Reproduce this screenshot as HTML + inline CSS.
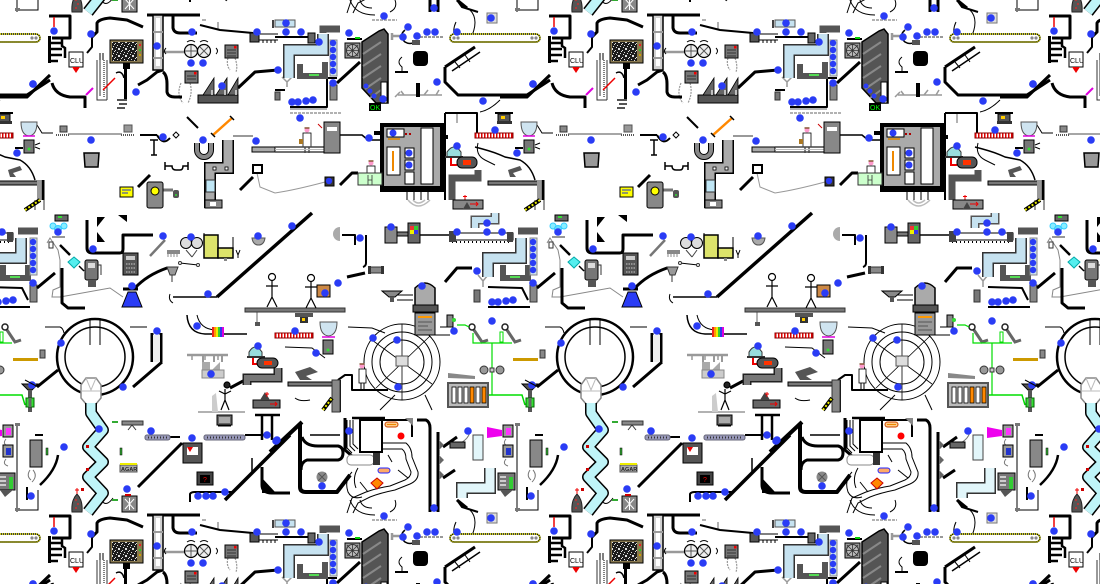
<!DOCTYPE html>
<html><head><meta charset="utf-8">
<style>
html,body{margin:0;padding:0;background:#fff;width:1100px;height:584px;overflow:hidden}
svg{display:block}
</style></head>
<body>
<svg width="1100" height="584" viewBox="0 0 1100 584" xmlns="http://www.w3.org/2000/svg" xmlns:xlink="http://www.w3.org/1999/xlink">
<defs>
<pattern id="nz" width="7" height="7" patternUnits="userSpaceOnUse">
<rect width="7" height="7" fill="#1c1c1c"/>
<path d="M0 0h1v1H0zM3 1h1v1H3zM5 3h1v1H5zM1 4h1v1H1zM4 5h1v1H4zM6 6h1v1H6zM2 2h1v1H2zM6 0h1v1H6zM0 6h1v1H0z" fill="#e0e0e0"/>
</pattern>
<g id="T">
<!-- ===== gray lines ===== -->
<g fill="none" stroke="#999" stroke-width="1.5">
<path d="M163,52 H185" stroke-width="2.5"/>
<path d="M68,134 H122" stroke="#888"/>
<path d="M233,136 H253" stroke-width="2"/>
<path d="M257,173 L260,187 L275,193" stroke-width="1"/>
<path d="M275,193 Q295,190 325,182" stroke-width="1"/>
<path d="M290,113 H342" stroke-dasharray="3 1"/>
<path d="M398,95 H442 M401,91 L404,95 M439,90 L436,95 M424,95 L428,90"/>
<path d="M420,37 H443" stroke-width="2" stroke-dasharray="3 1"/>
<path d="M457,113 V123"/>
<path d="M198,412 H245"/>
<path d="M188,355 H227 M192,355 V360 M205,355 V360 M218,355 V360"/>
<path d="M257,312 V323"/>
<path d="M47,243 L50,238 L58,250 L60,260 V287 L53,290 L52,297 H60 L110,288 L123,297" stroke="#888" stroke-width="1"/>
<path d="M228,58 Q226,65 230,70 M235,58 Q238,66 236,72 M181,83 Q176,95 183,103 M190,83 Q193,93 188,103" stroke-dasharray="2 1" stroke-width="1.2"/>
<path d="M218,22 V30 M202,20 H206"/>
<path d="M187,355 H228" stroke-width="2.5"/>
<path d="M372,20 H397" stroke-dasharray="3 1"/>
<path d="M290,109 H327"/>
<path d="M282,77 L287,82 L292,77 M287,82 V87"/>
<path d="M478,275 L483,281 L488,275 M483,281 V287"/>
<path d="M395,97 L400,92"/>
<path d="M408,200 Q418,212 430,200" stroke="#bbb"/>
<path d="M413,200 Q418,206 425,200" stroke="#bbb"/>
<path d="M186,250 L192,257 M197,250 L192,257" stroke="#444" stroke-width="1"/>
<path d="M155,191 H147" stroke="#666"/>
<path d="M163,190 H173" stroke="#777" stroke-width="3"/>
<path d="M150,256 L165,240" stroke="#777" stroke-width="2.5"/>
<path d="M530,470 Q526,476 531,480 M533,470 Q538,476 532,482" stroke="#777" stroke-width="1"/>
<path d="M506,439 Q502,444 508,446 M506,459 Q502,464 508,466" stroke="#777" stroke-width="1"/>
<path d="M457,445 Q468,440 470,432" stroke="#777" stroke-width="1"/>
</g>

<!-- ===== thick black lines ===== -->
<g fill="none" stroke="#000" stroke-width="3" stroke-linejoin="round">
<path d="M49,16 H70 V38 H52"/>
<path d="M0,97 H27 L50,75"/>
<path d="M92,37 L97,32 V23 Q99,19 110,18 L127,20 L143,27"/>
<path d="M52,83 Q55,95 70,97 H85 V108"/>
<path d="M163,70 L157,72 L147,80 L138,85"/>
<path d="M163,72 Q167,75 167,84 V92 Q168,97 175,97 H182"/>
<path d="M147,15 H200"/>
<path d="M173,15 V28 Q174,33 180,33 H197"/>
<path d="M238,88 L255,72 L278,70"/>
<path d="M337,83 L360,62"/>
<path d="M445,67 L475,47"/>
<path d="M445,67 V82 L458,95 H527 L550,80"/>
<path d="M340,185 L352,173 H358"/>
<path d="M138,187 L150,175"/>
<path d="M240,190 L253,177"/>
<path d="M87,220 V248 Q87,253 93,253 H120 Q123,253 123,249 V235 H153"/>
<path d="M62,268 V303 L68,308 H85"/>
<path d="M37,288 L55,273"/>
<path d="M123,289 H138"/>
<path d="M135,288 Q147,275 167,268 H172"/>
<path d="M217,297 L312,213" stroke-width="3.5"/>
<path d="M152,333 V362 M161,333 V362"/>
<path d="M445,282 L457,268 H472"/>
<path d="M347,277 L365,273"/>
<path d="M37,387 L58,370"/>
<path d="M133,387 L162,362"/>
<path d="M58,455 Q56,470 40,485" stroke-width="2.5"/>
<path d="M138,487 L182,443"/>
<path d="M230,388 L245,380"/>
<path d="M225,500 L290,435" stroke-width="3.5"/>
<path d="M270,452 L302,422" stroke-width="4"/>
<path d="M300,424 V487 Q300,492 306,492 H337 L350,475" stroke-width="4"/>
<path d="M302,437 Q305,446 318,446 H338 Q343,447 343,453 Q343,459 338,460 H307 Q301,462 301,470"/>
<path d="M417,420 H426 Q430,422 430,428 V512"/>
<path d="M438,432 V512"/>
<path d="M443,478 L455,470"/>
<path d="M443,447 L457,437"/>
<path d="M345,418 V450 L352,456"/>
<path d="M418,83 V97" stroke-width="4"/>
<path d="M430,0 V12 M438,0 V12"/>
<path d="M262,467 V485 Q262,493 272,493 H290" stroke-width="3"/>
<path d="M255,415 H280 M262,415 V440 M272,415 V440" stroke-width="2.5"/>
<path d="M352,418 H385" stroke-width="2.5"/>
</g>

<!-- ===== medium black lines ===== -->
<g fill="none" stroke="#000" stroke-width="2" stroke-linejoin="round">
<path d="M92,37 V47 L87,53"/>
<path d="M200,25 L220,30 L253,33"/>
<path d="M275,37 H312"/>
<path d="M340,135 H362 L368,140 H385" stroke-width="1.5"/>
<path d="M445,113 V200 M445,113 H477 V133"/>
<path d="M457,0 L462,7 L478,12"/>
<path d="M342,235 H355 V245"/>
<path d="M366,235 V263 Q366,266 363,267"/>
<path d="M488,307 H530 M488,287 L522,288 L528,300"/>
<path d="M27,487 V500"/>
<path d="M190,502 V494 Q191,492 195,492 H232"/>
<path d="M245,435 H267 M170,437 H180"/>
<path d="M338,380 L345,375 H352 V390 H388 M340,380 V412"/>
<path d="M382,420 H412 V437"/>
<path d="M310,435 H340" stroke-width="1.5"/>
<path d="M140,135 H157 M157,135 Q163,146 170,138"/>
<path d="M290,107 H327 V78 L337,78"/>
<path d="M395,72 H408"/>
<path d="M60,245 L70,255" stroke-width="2.5"/>
<path d="M187,117 L198,128"/>
<path d="M347,39 H362"/>
<path d="M275,90 H285"/>
<path d="M480,52 L452,71" stroke-width="1.5"/>
<path d="M455,62 L460,68 M465,55 L470,62" stroke-width="1"/>
<path d="M495,113 H513"/>
<path d="M35,435 H43"/>
<path d="M535,435 H543"/>
<path d="M543,180 V200" stroke-width="3"/>
<path d="M252,458 V472" stroke-width="1.5"/>
</g>

<!-- ===== thin black lines ===== -->
<g fill="none" stroke="#000" stroke-width="1">
<path d="M37,125 L42,133 H53"/>
<path d="M15,148 H23" stroke-width="2"/>
<path d="M150,140 H158 M154,140 V155 M151,155 H157" stroke-width="1.5"/>
<path d="M165,162 V170 M165,166 H172 Q172,170 176,170 H180 Q183,170 183,166 H188 M188,162 V170" stroke-width="1.5"/>
<path d="M475,147 Q495,152 505,157 L520,160 Q531,166 535,180" stroke-width="1.5"/>
<path d="M173,297 H217" stroke-width="1.5"/>
<path d="M170,294 Q168,300 173,303"/>
<path d="M187,315 Q188,333 205,334 H247" stroke-width="1.5"/>
<path d="M197,315 Q200,329 215,330"/>
<path d="M348,327 L372,328 L385,333"/>
<path d="M428,335 H450 M440,327 H452"/>
<path d="M285,347 L312,348 L325,358"/>
<path d="M420,235 H452" stroke-width="1.5"/>
<path d="M397,295 H413 M397,300 H413"/>
<path d="M402,57 Q396,62 402,67 V72"/>
<path d="M17,425 V510 H38 V490"/>
<path d="M517,425 V512"/>
<path d="M45,327 H60 Q63,328 64,333 M130,327 H147"/>
<path d="M90,318 V345 M100,318 V345"/>
<path d="M405,30 Q398,36 405,42 Q410,45 415,42" stroke-width="1.5"/>
<path d="M350,0 Q355,15 375,15 M360,0 Q362,8 372,8 M395,0 Q398,8 390,12"/>
<path d="M180,263 L198,265"/>
<path d="M478,143 Q475,155 485,160 L495,165"/>
<path d="M382,443 H406 Q412,448 412,457 L418,472 Q419,480 410,484 L395,490 Q380,493 370,497 L358,503 L353,513"/>
<path d="M382,449 H402 Q406,452 406,459 L411,472 Q411,477 405,480 L390,486 Q377,488 366,492 L352,498 L347,513"/>
<path d="M352,472 Q344,480 348,492 Q352,500 362,497"/>
<path d="M358,468 Q352,478 356,488"/>
<path d="M398,470 L408,478 M360,482 L368,492 M388,455 L392,462"/>
<path d="M113,498 Q108,505 104,503 Q100,500 105,497"/>
<path d="M295,398 Q300,402 310,400"/>
<path d="M470,40 Q480,20 470,10 M455,40 Q452,30 456,22"/>
<path d="M500,100 Q490,110 480,112"/>
<path d="M25,380 L38,387"/>
<path d="M380,410 Q390,400 395,395 M425,395 L432,410"/>
</g>

<!-- ===== rings ===== -->
<g fill="none" stroke="#000">
<circle cx="95" cy="357" r="38" stroke-width="2.5"/>
<circle cx="95" cy="357" r="30" stroke-width="1.5"/>
<circle cx="402" cy="362" r="38" stroke-width="1"/>
<circle cx="402" cy="362" r="30" stroke-width="1"/>
<circle cx="402" cy="362" r="22" stroke-width="1"/>
<path d="M372,340 L432,384 M376,388 L430,336 M402,324 V400" stroke-width="0.8"/>
</g>
<rect x="396" y="356" width="12" height="10" fill="#ddd" stroke="#555"/>
<polygon points="86,378 96,378 101,385 101,398 96,404 86,404 81,398 81,385" fill="#fff" stroke="#888" stroke-width="1.5"/>
<path d="M86,378 L91,390 L96,378 M81,391 H101" fill="none" stroke="#bbb"/>

<!-- ===== zigzag cyan pipe ===== -->
<polyline points="91,403 91,413 103,430 88,447 103,462 88,477 103,493 88,512" fill="none" stroke="#000" stroke-width="12" stroke-linejoin="round"/>
<polyline points="91,403 91,413 103,430 88,447 103,462 88,477 103,493 88,512" fill="none" stroke="#bff4f8" stroke-width="9" stroke-linejoin="round"/>
<rect x="86" y="445" width="3" height="3" fill="#c00"/><rect x="86" y="468" width="3" height="3" fill="#c00"/><rect x="81" y="488" width="3" height="3" fill="#c00"/>

<!-- ===== cyan pipes ===== -->
<path d="M289,78 V50 H323 V34" fill="none" stroke="#333" stroke-width="12"/>
<path d="M289,78 V50 H323 V34" fill="none" stroke="#c6e2f0" stroke-width="9"/>
<path d="M323,33 V29 H340" fill="none" stroke="#555" stroke-width="7"/>
<rect x="275" y="20" width="20" height="7" fill="#c6e2f0" stroke="#555"/>
<path d="M488,277 V258 H521 V238" fill="none" stroke="#333" stroke-width="12"/>
<path d="M488,277 V258 H521 V238" fill="none" stroke="#c6e2f0" stroke-width="9"/>
<path d="M518,231 H538" fill="none" stroke="#555" stroke-width="7"/>
<path d="M475,228 V220 H495 V213" fill="none" stroke="#555" stroke-width="9"/>
<path d="M475,228 V220 H495 V213" fill="none" stroke="#c6e2f0" stroke-width="6"/>
<rect x="473" y="435" width="10" height="25" fill="#e2f6fa" stroke="#444"/>
<path d="M462,498 V488 H490 V468" fill="none" stroke="#333" stroke-width="12"/>
<path d="M462,498 V488 H490 V468" fill="none" stroke="#e2f6fa" stroke-width="9"/>
<path d="M457,500 L467,508" stroke="#000" stroke-width="3"/>
<!-- dark gray U pipes -->
<path d="M300,64 V76 H325 V62" fill="none" stroke="#555" stroke-width="6"/>
<rect x="309" y="74" width="10" height="2" fill="#5d5"/>
<path d="M503,265 V278 H528 V265" fill="none" stroke="#555" stroke-width="6"/>
<rect x="510" y="276" width="10" height="2" fill="#5d5"/>
<rect x="330" y="40" width="7" height="36" fill="#d0e4f0" stroke="#888"/>
<rect x="530" y="238" width="7" height="37" fill="#d0e4f0" stroke="#888"/>
<rect x="330" y="85" width="7" height="15" fill="#888" stroke="#333"/>
<rect x="530" y="285" width="7" height="17" fill="#888" stroke="#333"/>
<rect x="275" y="92" width="5" height="8" fill="#777" stroke="#333"/>
<rect x="474" y="290" width="6" height="12" fill="#777" stroke="#333"/>

<!-- ===== gray pipe ===== -->
<path d="M228,140 V168 H210 V208" fill="none" stroke="#000" stroke-width="12"/>
<path d="M228,140 V168 H210 V208" fill="none" stroke="#aaa" stroke-width="9"/>
<rect x="206" y="180" width="9" height="12" fill="#bfe6f5" stroke="#333"/>
<rect x="213" y="167" width="3" height="3" fill="#fff" stroke="#000" stroke-width="0.8"/>
<rect x="225" y="167" width="3" height="3" fill="#fff" stroke="#000" stroke-width="0.8"/>
<rect x="205" y="200" width="17" height="8" fill="#888" stroke="#000"/>
<rect x="210" y="202" width="6" height="4" fill="#fff"/>
<rect x="253" y="165" width="9" height="8" fill="#fff" stroke="#000" stroke-width="2"/>
<path d="M478,170 V178 H452 V200" fill="none" stroke="#555" stroke-width="7"/>
<path d="M247,385 V378 H278 V368" fill="none" stroke="#222" stroke-width="9"/>
<path d="M247,385 V378 H278 V368" fill="none" stroke="#777" stroke-width="6"/>

<!-- ===== column top-middle ===== -->
<rect x="153" y="15" width="10" height="55" fill="#d0d0d0" stroke="#000" stroke-width="1.5"/>
<rect x="156" y="18" width="4" height="48" fill="#fff"/>
<path d="M153,32 H163 M153,58 H163" stroke="#999" stroke-width="2"/>

<!-- ladder -->
<rect x="48" y="36" width="3" height="27" fill="#000"/>
<path d="M50,43 H62 M50,49 H62 M50,55 H62 M50,61 H58" stroke="#000" stroke-width="2.5"/>
<path d="M62,38 V46 L65,48 V58" fill="none" stroke="#000" stroke-width="2.5"/>
<line x1="54" y1="17" x2="54" y2="27" stroke="#e00" stroke-width="1.5"/>
<rect x="15" y="508" width="5" height="3" fill="#777"/>
<rect x="15" y="423" width="5" height="3" fill="#777"/>
<rect x="515" y="423" width="5" height="3" fill="#777"/>

<!-- CLU -->
<rect x="69" y="52" width="14" height="15" fill="#fff" stroke="#000"/>
<text x="70" y="63" font-family="Liberation Sans, sans-serif" font-size="7" fill="#000">CLU</text>
<polygon points="72,67 80,67 76,73" fill="#e00"/>

<!-- test tube rack -->
<path d="M97,60 V100 H107 M100,57 V96 M107,60 V100" fill="none" stroke="#333" stroke-width="1"/>
<path d="M104,60 V98" stroke="#000" stroke-width="1" stroke-dasharray="1 1"/>
<path d="M100,53 V60 M103,53 V60" stroke="#555" stroke-width="1.5"/>
<line x1="86" y1="95" x2="93" y2="88" stroke="#d0d" stroke-width="2"/>
<line x1="103" y1="90" x2="115" y2="78" stroke="#e00" stroke-width="1.5"/>

<!-- noise screen -->
<rect x="110" y="40" width="33" height="23" fill="#8a7a50" stroke="#000"/>
<rect x="112" y="42" width="25" height="19" fill="url(#nz)"/>
<rect x="139" y="44" width="2" height="2" fill="#e22"/><rect x="139" y="49" width="2" height="2" fill="#2c2"/><rect x="139" y="54" width="2" height="2" fill="#c90"/>
<rect x="123" y="63" width="7" height="6" fill="#000"/>
<rect x="124" y="69" width="3" height="30" fill="#000"/>
<path d="M116,73 Q122,70 124,78" fill="none" stroke="#000" stroke-width="1.5"/>
<path d="M117,100 H127 M119,104 H127 M117,108 H125" stroke="#555" stroke-width="2"/>

<!-- twin balls -->
<circle cx="191" cy="51" r="6.5" fill="#eee" stroke="#000" stroke-width="1.2"/>
<circle cx="204" cy="51" r="6.5" fill="#eee" stroke="#000" stroke-width="1.2"/>
<path d="M191,45 V57 M185,51 H197 M200,47 L208,55 M208,47 L200,55" stroke="#555" stroke-width="1"/>
<path d="M166,48 Q163,51 166,54 M216,48 Q219,51 216,54 M187,42 Q191,39 195,42 M200,42 Q204,39 208,42" fill="none" stroke="#000" stroke-width="1"/>

<!-- gray devices -->
<rect x="225" y="45" width="13" height="13" fill="#777" stroke="#000"/>
<path d="M227,50 H236 M227,53 H236 M227,56 H236" stroke="#333"/>
<rect x="234" y="46" width="2.5" height="2.5" fill="#e00"/>
<rect x="185" y="71" width="13" height="12" fill="#777" stroke="#000"/>
<path d="M187,76 H196 M187,79 H196" stroke="#333"/>
<rect x="194" y="72" width="2.5" height="2.5" fill="#e00"/>

<!-- factory -->
<rect x="198" y="95" width="40" height="8" fill="#555" stroke="#000"/>
<polygon points="203,95 214,78 214,95" fill="#666" stroke="#000" stroke-width="0.8"/>
<polygon points="216,95 227,78 227,95" fill="#666" stroke="#000" stroke-width="0.8"/>
<polygon points="228,95 238,78 238,95" fill="#666" stroke="#000" stroke-width="0.8"/>
<path d="M212,90 V95 M225,90 V95 M236,90 V95" stroke="#ddd" stroke-width="1.5"/>

<!-- plug & rail -->
<rect x="250" y="33" width="9" height="9" fill="#555" stroke="#000"/>
<path d="M259,34 H278 M259,40 H278 M263,40 V43 M267,40 V43 M271,40 V43 M275,40 V43" stroke="#000" stroke-width="1"/>
<path d="M273,20 V28" stroke="#000" stroke-width="1.5"/>

<!-- left lower devices -->
<rect x="498" y="114" width="12" height="8" fill="#555" stroke="#000"/>
<rect x="501" y="116" width="4" height="3" fill="#fc0"/>
<rect x="497" y="121" width="15" height="3" fill="#333"/>
<path d="M21,122 H37 Q37,135 29,136 Q21,135 21,122 Z" fill="#cfe4f0" stroke="#555"/>
<path d="M23,136 H35" stroke="#d0d" stroke-width="1.5"/>
<rect x="24" y="140" width="10" height="13" fill="#777" stroke="#000"/>
<circle cx="29" cy="149" r="1.5" fill="#3d3"/>
<path d="M35,145 L40,143 M35,147 L40,149" stroke="#000"/>
<rect x="475" y="133" width="38" height="5" fill="#fff" stroke="#800"/>
<line x1="475" y1="135.5" x2="513" y2="135.5" stroke="#d00" stroke-width="4" stroke-dasharray="1.5 1.5"/>
<rect x="275" y="333" width="38" height="5" fill="#fff" stroke="#800"/>
<line x1="275" y1="335.5" x2="313" y2="335.5" stroke="#d00" stroke-width="4" stroke-dasharray="1.5 1.5"/>
<rect x="60" y="126" width="7" height="6" fill="#888" stroke="#333"/>
<path d="M56,135 H70" stroke="#555" stroke-width="2" stroke-dasharray="1 1"/>
<rect x="124" y="125" width="8" height="7" fill="#999" stroke="#555"/>
<path d="M121,135 H134" stroke="#555" stroke-width="2" stroke-dasharray="1 1"/>
<polygon points="176,132 179,135 176,138 173,135" fill="#fff" stroke="#000"/>
<line x1="213" y1="135" x2="232" y2="118" stroke="#f80" stroke-width="2.5"/>
<path d="M211,133 L215,137 M230,116 L234,120" stroke="#000" stroke-width="1.5"/>
<path d="M197,143 V150 A7,7 0 0 0 211,150 V143" fill="none" stroke="#000" stroke-width="6"/>
<path d="M197,143 V150 A7,7 0 0 0 211,150 V143" fill="none" stroke="#888" stroke-width="4"/>
<rect x="252" y="147" width="23" height="5" fill="#aaa" stroke="#000"/>
<polygon points="84,153 99,153 98,167 85,167" fill="#999" stroke="#000" stroke-width="1.5"/>
<polygon points="508,170 520,166 522,170 513,173 516,177 510,177" fill="#555"/>
<rect x="488" y="181" width="50" height="4" fill="#777" stroke="#000"/>
<rect x="537" y="180" width="4" height="20" fill="#999"/>
<rect x="120" y="187" width="13" height="10" fill="#ff0" stroke="#000"/>
<path d="M122,190 H131 M122,193 H128" stroke="#23c"/>
<rect x="147" y="182" width="16" height="26" rx="2" fill="#888" stroke="#000"/>
<circle cx="155" cy="191" r="4" fill="#ff0" stroke="#000"/>
<rect x="173" y="190" width="6" height="8" rx="2" fill="#555"/>
<circle cx="176" cy="195" r="1" fill="#3d3"/>

<!-- zoom2 top -->
<rect x="308" y="33" width="7" height="10" fill="#666" stroke="#000"/>
<rect x="345" y="43" width="15" height="15" fill="#999" stroke="#000"/>
<circle cx="352.5" cy="50.5" r="6" fill="#bbb" stroke="#333"/>
<path d="M347,45 L358,56 M358,45 L347,56 M352.5,44 V57 M346,50.5 H359" stroke="#333" stroke-width="0.8"/>
<rect x="355" y="37" width="5" height="2" fill="#0c0"/>
<polygon points="362,42 379,31 384,29 388,34 388,103 376,103 362,88" fill="#555" stroke="#000" stroke-width="1.5"/>
<path d="M363,54 L381,42 M363,66 L381,54 M363,78 L381,66 M365,89 L381,78 M370,98 L381,90" stroke="#888" stroke-width="2"/>
<rect x="381" y="82" width="6" height="21" fill="#fff" stroke="#000"/>
<circle cx="366" cy="86" r="2.5" fill="#2a3cf5"/><circle cx="370" cy="91" r="2.5" fill="#2a3cf5"/><circle cx="374" cy="96" r="2.5" fill="#2a3cf5"/>
<rect x="369" y="103" width="12" height="8" fill="#000"/>
<text x="370" y="110" font-family="Liberation Sans, sans-serif" font-size="7" fill="#0f0">OK</text>
<path d="M392,33 V40 M392,36 H402" stroke="#999" stroke-width="2.5"/>
<rect x="412" y="40" width="8" height="5" fill="#555"/>
<rect x="413" y="51" width="15" height="15" rx="4" fill="#000"/>
<rect x="450" y="34" width="90" height="8" rx="4" fill="#fff" stroke="#000" stroke-width="1.5"/>
<rect x="450" y="34" width="90" height="8" rx="4" fill="none" stroke="#ee0" stroke-width="1.5" stroke-dasharray="1 1"/>
<circle cx="454" cy="38" r="1.6" fill="#888"/><circle cx="458" cy="38" r="1.6" fill="#888"/><circle cx="532" cy="38" r="1.6" fill="#888"/><circle cx="536" cy="38" r="1.6" fill="#888"/>
<rect x="487" y="13" width="10" height="10" fill="#ddd" stroke="#777"/>

<!-- zoom2 lower -->
<circle cx="307" cy="130" r="2.5" fill="#f9c"/>
<path d="M304.5,128 H309.5" stroke="#853" stroke-width="1.5"/>
<rect x="303" y="133" width="8" height="14" fill="#fff" stroke="#000" stroke-width="0.8"/>
<path d="M305,147 V153 M309,147 V153" stroke="#000"/>
<rect x="299" y="139" width="4" height="5" fill="#a72"/>
<path d="M275,147 H325 M275,152 H325" stroke="#444" stroke-width="1.5"/>
<path d="M275,149.5 H325" stroke="#bbb"/>
<rect x="324" y="122" width="16" height="31" fill="#888" stroke="#000"/>
<rect x="327" y="127" width="10" height="4" fill="#fff"/>
<path d="M318,124 L322,128" stroke="#c00"/>
<rect x="382" y="125" width="60" height="63" fill="#aaa" stroke="#000" stroke-width="4"/>
<path d="M374,133 H382 M442,137 H448 M380,190 H444" stroke="#000" stroke-width="4"/>
<rect x="387" y="129" width="17" height="8" fill="#fff" stroke="#000"/>
<path d="M388,139 H400" stroke="#d80" stroke-width="1.5"/>
<rect x="387" y="147" width="13" height="28" fill="#fff" stroke="#000"/>
<path d="M393,151 V171" stroke="#e80" stroke-width="2"/>
<rect x="405" y="148" width="9" height="10" fill="#fff" stroke="#000"/>
<rect x="405" y="160" width="9" height="10" fill="#fff" stroke="#000"/>
<rect x="405" y="172" width="9" height="12" fill="#fff" stroke="#000"/>
<rect x="421" y="128" width="12" height="56" fill="#fff" stroke="#000"/>
<rect x="405" y="133" width="2" height="2" fill="#a00"/><rect x="409" y="133" width="2" height="2" fill="#a00"/>
<path d="M407,192 V200 M414,192 V200 M421,192 V200 M428,192 V200" stroke="#000"/>
<circle cx="371" cy="163" r="2.5" fill="#f9c"/>
<path d="M368.5,161 H373.5" stroke="#853" stroke-width="1.5"/>
<rect x="367" y="166" width="8" height="8" fill="#fff" stroke="#000" stroke-width="0.8"/>
<rect x="358" y="173" width="24" height="12" fill="#cfc" stroke="#333"/>
<path d="M368,175 V185 M372,175 V185 M368,180 H372" stroke="#333" stroke-width="0.8"/>
<rect x="325" y="177" width="9" height="9" fill="#333" stroke="#000"/>
<path d="M447,157 V152 Q454,142 461,152 V157 Z" fill="#9dd" stroke="#333"/>
<rect x="445" y="156" width="18" height="2" fill="#333"/>
<path d="M451,158 V165 H457" fill="none" stroke="#e00" stroke-width="2"/>
<rect x="457" y="157" width="20" height="11" rx="5" fill="#555" stroke="#000"/>
<rect x="463" y="160" width="8" height="5" fill="#f30"/>
<path d="M249,357 V352 Q255,342 262,352 V357 Z" fill="#9dd" stroke="#333"/>
<rect x="247" y="356" width="18" height="2" fill="#333"/>
<path d="M253,358 V364 H258" fill="none" stroke="#e00" stroke-width="2"/>
<rect x="257" y="358" width="21" height="10" rx="5" fill="#555" stroke="#000"/>
<rect x="264" y="361" width="8" height="4" fill="#f30"/>
<path d="M465,195 V200 M463,196.5 H467" stroke="#e00"/>
<!-- zoom3 -->
<path d="M25,210 L40,200" stroke="#000" stroke-width="4"/>
<path d="M25,210 L40,200" stroke="#ee0" stroke-width="2" stroke-dasharray="2 2"/>
<path d="M525,210 L540,200" stroke="#000" stroke-width="4"/>
<path d="M525,210 L540,200" stroke="#ee0" stroke-width="2" stroke-dasharray="2 2"/>
<path d="M535,200 V210 M544,200 V210" stroke="#777" stroke-width="1.5"/>
<rect x="55" y="215" width="13" height="6" fill="#666" stroke="#000"/>
<rect x="58" y="216" width="4" height="2" fill="#3d3"/>
<circle cx="53" cy="226" r="3" fill="#8ef" stroke="#3cf"/>
<circle cx="64" cy="226" r="3" fill="#8ef" stroke="#3cf"/>
<circle cx="58" cy="229" r="3.5" fill="#6df" stroke="#3cf"/>
<path d="M52,237 H65" stroke="#999" stroke-width="2"/>
<rect x="49" y="242" width="4" height="6" fill="#fff" stroke="#333"/>
<polygon points="74,257 80,262 74,268 68,262" fill="#5ee" stroke="#0aa"/>
<path d="M79,266 L84,271" stroke="#000" stroke-width="1.5"/>
<rect x="85" y="260" width="13" height="20" rx="2" fill="#777" stroke="#000"/>
<rect x="88" y="263" width="7" height="5" fill="#ddd"/>
<rect x="88" y="280" width="8" height="7" fill="#555"/>
<path d="M98,265 H101 V275" fill="none" stroke="#333"/>
<polygon points="97,217 105,217 97,227" fill="#000"/>
<polygon points="97,232 97,242 105,242" fill="#000"/>
<polygon points="118,215 127,215 127,222" fill="#000"/>
<rect x="123" y="253" width="15" height="22" fill="#555" stroke="#000"/>
<rect x="126" y="256" width="9" height="4" fill="#ccc"/>
<path d="M126,264 H135 M126,268 H135 M126,272 H135" stroke="#ccc" stroke-dasharray="1.5 1"/>
<polygon points="128,292 136,292 142,307 122,307" fill="#2a3cf5" stroke="#000"/>
<circle cx="186" cy="243" r="5.5" fill="#ddd" stroke="#000"/>
<circle cx="197" cy="243" r="5.5" fill="#ddd" stroke="#000"/>
<rect x="167" y="250" width="13" height="4" fill="#888"/>
<path d="M168,254 V257 M171,254 V257 M174,254 V257 M177,254 V257" stroke="#888"/>
<rect x="204" y="235" width="14" height="23" fill="#dde36b" stroke="#000" stroke-width="1.5"/>
<rect x="218" y="248" width="15" height="10" fill="#dde36b" stroke="#000" stroke-width="1.5"/>
<path d="M204,233 V235 M233,237 V248 M236,250 L238,255 L240,250 M238,255 V258" fill="none" stroke="#000"/>
<rect x="224" y="258" width="3" height="3" fill="#888"/>
<path d="M252,238 H265 Q264,245 258.5,245 Q253,245 252,238 Z" fill="#aaa" stroke="#555"/>
<polygon points="167,267 178,267 175,275 170,275" fill="#999" stroke="#333"/>
<path d="M172,275 V282" stroke="#333"/>
<circle cx="180" cy="263" r="1.5" fill="#fff" stroke="#333"/><circle cx="198" cy="265" r="1.5" fill="#fff" stroke="#333"/>
<rect x="245" y="308" width="100" height="4" fill="#777" stroke="#333"/>
<rect x="255" y="322" width="5" height="4" fill="#555"/>
<rect x="212" y="327" width="2" height="10" fill="#e22"/><rect x="214" y="327" width="2" height="10" fill="#f90"/><rect x="216" y="327" width="2" height="10" fill="#ee0"/><rect x="218" y="327" width="2" height="10" fill="#3c3"/><rect x="220" y="327" width="2" height="10" fill="#33e"/><rect x="222" y="327" width="2" height="10" fill="#d0d"/>
<rect x="153" y="335" width="7" height="27" fill="#eee"/>
<rect x="40" y="350" width="5" height="8" fill="#888" stroke="#333"/>
<rect x="13" y="358" width="25" height="3" fill="#c90"/>
<rect x="513" y="358" width="25" height="3" fill="#c90"/>
<rect x="540" y="350" width="5" height="8" fill="#888" stroke="#333"/>

<!-- zoom4 -->
<path d="M340,227 A7,7 0 0 0 340,241 Z" fill="#aaa"/>
<rect x="370" y="267" width="12" height="6" fill="#888" stroke="#333"/>
<rect x="368" y="266" width="3" height="8" fill="#333"/><rect x="381" y="266" width="3" height="8" fill="#333"/>
<g fill="none" stroke="#000" stroke-width="1.2">
<circle cx="311" cy="278" r="3.5" fill="#fff"/>
<path d="M311,282 V298 L306,308 M311,298 L316,308 M305,287 H317"/>
<circle cx="272" cy="277" r="3.5" fill="#fff"/>
<path d="M272,281 V297 L267,307 M272,297 L277,307 M266,286 H278"/>
<circle cx="227" cy="385" r="3" fill="#222"/>
<path d="M225,389 V400 L221,410 M225,400 L229,410 M219,391 L225,394 L231,391"/>
</g>
<rect x="317" y="285" width="13" height="12" fill="#c84" stroke="#000"/>
<rect x="385" y="227" width="12" height="16" fill="#888" stroke="#000"/>
<rect x="397" y="232" width="11" height="4" fill="#777" stroke="#000"/>
<rect x="408" y="223" width="12" height="20" fill="#666" stroke="#000"/>
<rect x="410" y="226" width="4" height="4" fill="#e33"/><rect x="414" y="226" width="4" height="4" fill="#3c3"/><rect x="410" y="230" width="4" height="4" fill="#ee0"/><rect x="414" y="230" width="4" height="4" fill="#33e"/>
<rect x="450" y="233" width="63" height="7" fill="#fff" stroke="#000"/>
<path d="M452,242 H511" stroke="#000" stroke-width="2" stroke-dasharray="1 3"/>
<rect x="449" y="231" width="7" height="11" fill="#444"/>
<rect x="507" y="232" width="6" height="10" fill="#444"/>
<rect x="453" y="200" width="30" height="9" fill="#888" stroke="#000"/>
<path d="M470,204 H478 M476,202 L478,204 L476,206" fill="none" stroke="#e00"/>
<polygon points="463,209 467,202 471,209" fill="#444"/>
<path d="M415,310 V288 Q425,278 435,288 V310 Z" fill="#aaa" stroke="#000" stroke-width="1.5"/>
<rect x="413" y="305" width="25" height="7" fill="#555" stroke="#000"/>
<polygon points="382,291 402,291 395,297 389,297" fill="#888" stroke="#000"/>
<rect x="390" y="297" width="4" height="5" fill="#555"/>
<rect x="415" y="313" width="20" height="22" fill="#999" stroke="#000"/>
<rect x="418" y="316" width="14" height="2" fill="#f90"/>
<path d="M418,322 H432 M418,326 H428 M418,330 H432" stroke="#555"/>
<rect x="447" y="315" width="6" height="12" fill="#888" stroke="#000"/>
<circle cx="454" cy="320" r="2" fill="#3d3"/>
<g fill="none" stroke="#666" stroke-width="3">
<path d="M472,327 L482,342 L488,340"/>
<path d="M505,327 L515,342 L521,340"/>
</g>
<circle cx="472" cy="327" r="3" fill="#fff" stroke="#222" stroke-width="1.5"/>
<circle cx="505" cy="327" r="3" fill="#fff" stroke="#222" stroke-width="1.5"/>
<path d="M457,325 H465 L469,327 M473,333 V343 H492 V395 M492,343 H512" fill="none" stroke="#0d0" stroke-width="1.2"/>
<path d="M488,395 H522 L525,405" fill="none" stroke="#0d0" stroke-width="1.5"/>
<rect x="500" y="332" width="3" height="10" fill="none" stroke="#0d0"/>
<rect x="295" y="313" width="18" height="4" fill="#555"/>
<rect x="300" y="317" width="8" height="6" fill="#333"/>
<rect x="302" y="318" width="3" height="3" fill="#fc0"/>
<path d="M320,322 H337 Q337,335 328.5,336 Q320,335 320,322 Z" fill="#cfe4f0" stroke="#555"/>
<path d="M322,337 H335" stroke="#d0d" stroke-width="1.5"/>
<rect x="323" y="340" width="10" height="14" fill="#777" stroke="#000"/>
<circle cx="328" cy="350" r="1.5" fill="#3d3"/>

<!-- zoom5 -->
<polygon points="522,384 538,384 532,390 528,390" fill="#555" stroke="#000"/>
<rect x="528" y="390" width="4" height="22" fill="#555"/>
<rect x="526" y="398" width="8" height="9" fill="#3d3" stroke="#060"/>
<rect x="528.5" y="398" width="3" height="9" fill="#666"/>
<polygon points="487,427 502,430 502,436 487,438" fill="#e0e"/>
<rect x="503" y="425" width="10" height="12" fill="#999" stroke="#000"/>
<rect x="506" y="428" width="5" height="7" fill="#f3f"/>
<rect x="503" y="445" width="10" height="12" fill="#999" stroke="#000"/>
<rect x="506" y="448" width="5" height="7" fill="#23c"/>
<rect x="498" y="473" width="17" height="17" fill="#777" stroke="#000"/>
<rect x="509" y="477" width="4" height="12" fill="#3c3"/>
<rect x="500" y="476" width="6" height="2" fill="#ccc"/><rect x="500" y="480" width="6" height="2" fill="#ccc"/><rect x="500" y="484" width="6" height="2" fill="#ccc"/>
<polygon points="500,490 513,490 505,497" fill="#555"/>
<rect x="530" y="440" width="12" height="27" fill="#888" stroke="#000"/>
<path d="M532,443 H540 M532,447 H540 M532,451 H540 M532,455 H540 M532,459 H540" stroke="#ddd" stroke-dasharray="1.5 1"/>
<rect x="46" y="448" width="2" height="7" fill="#3a3" stroke="#000" stroke-width="0.5"/>
<rect x="120" y="448" width="2" height="7" fill="#3a3" stroke="#000" stroke-width="0.5"/>
<rect x="112" y="421" width="6" height="2" fill="#3a3"/>
<rect x="112" y="499" width="6" height="2" fill="#3a3"/>
<rect x="122" y="421" width="21" height="4" fill="#888" stroke="#333"/>
<path d="M128,430 L132,425 L136,430" fill="none" stroke="#333"/>
<rect x="145" y="435" width="25" height="5" rx="2" fill="#99b" stroke="#667"/>
<path d="M148,437.5 H168" stroke="#333" stroke-width="2" stroke-dasharray="1 2"/>
<rect x="204" y="435" width="41" height="5" rx="2" fill="#99b" stroke="#667"/>
<path d="M207,437.5 H243" stroke="#333" stroke-width="2" stroke-dasharray="1 2"/>
<rect x="120" y="465" width="17" height="7" fill="#aaa" stroke="#555"/>
<rect x="120" y="463" width="17" height="2" fill="#ee0"/>
<text x="121" y="471" font-family="Liberation Sans, sans-serif" font-size="5.5" font-weight="bold" fill="#222">AGAR</text>
<rect x="183" y="443" width="19" height="20" fill="#555" stroke="#000"/>
<rect x="187" y="447" width="11" height="8" fill="#fff"/>
<polygon points="187,447 193,447 190,452" fill="#e00"/>
<rect x="197" y="472" width="16" height="13" fill="#444" stroke="#000"/>
<rect x="200" y="475" width="10" height="8" fill="#000"/>
<text x="203" y="482" font-family="Liberation Sans, sans-serif" font-size="7" fill="#e00">?</text>
<rect x="217" y="415" width="15" height="10" fill="#666" stroke="#000"/>
<rect x="219" y="417" width="11" height="6" fill="#aaa"/>
<path d="M218,426 H231" stroke="#000"/>
<rect x="202" y="362" width="8" height="8" fill="#aaa"/><polygon points="212,370 220,362 220,370" fill="#aaa"/>
<rect x="202" y="370" width="22" height="8" fill="#ccc" stroke="#888"/>
<path d="M203,362 V355 M214,362 V355 M222,362 V355" stroke="#999" stroke-width="2"/>
<polygon points="212,412 212,396 216,393 218,412" fill="#ccc"/>
<rect x="253" y="400" width="27" height="8" fill="#666" stroke="#000"/>
<polygon points="260,400 265,392 270,400" fill="#444"/>
<path d="M267,392 V397 M265,394 H269" stroke="#e00"/>
<path d="M270,404 H277 M275,402 L277,404 L275,406" fill="none" stroke="#e00"/>
<polygon points="262,478 262,493 276,493" fill="#000"/>
<path d="M72,512 Q71,500 77,494 Q83,500 82,512 Z" fill="#555" stroke="#222"/>
<path d="M77,488 V494 M75,490 H79" stroke="#e00" stroke-width="1"/>
<circle cx="76" cy="500" r="0.9" fill="#e22"/><circle cx="78" cy="504" r="0.9" fill="#e22"/><circle cx="76" cy="508" r="0.9" fill="#e22"/>
<rect x="122" y="496" width="15" height="16" fill="#888" stroke="#000"/>
<rect x="125" y="494" width="6" height="2" fill="#c00"/>
<path d="M125,499 L134,509 M134,499 L125,509 M129.5,498 V510" stroke="#fff" stroke-width="1"/>
<rect x="30" y="440" width="12" height="27" fill="#888" stroke="#000"/>
<rect x="3" y="425" width="10" height="12" fill="#999" stroke="#000"/>
<rect x="6" y="428" width="5" height="7" fill="#f3f"/>
<rect x="3" y="445" width="10" height="12" fill="#999" stroke="#000"/>
<rect x="6" y="448" width="5" height="7" fill="#23c"/>

<!-- zoom6 -->
<polygon points="295,372 310,367 318,372 306,376 312,380 300,380" fill="#555"/>
<rect x="288" y="382" width="50" height="4" fill="#777" stroke="#000"/>
<rect x="332" y="380" width="8" height="32" fill="#888" stroke="#333"/>
<path d="M323,410 L332,398" stroke="#000" stroke-width="4"/>
<path d="M323,410 L332,398" stroke="#ee0" stroke-width="2" stroke-dasharray="2 2"/>
<circle cx="362" cy="366" r="2.5" fill="#f9c"/>
<path d="M359.5,364 H364.5" stroke="#853" stroke-width="1.5"/>
<rect x="359" y="369" width="7" height="14" fill="#fff" stroke="#000" stroke-width="0.8"/>
<path d="M361,383 V390 M364,383 V390" stroke="#000"/>
<polygon points="448,373 475,376 475,379 448,378" fill="#888"/>
<rect x="448" y="383" width="40" height="24" fill="#bbb" stroke="#555" stroke-width="2"/>
<rect x="452" y="387" width="4" height="16" fill="#fff" stroke="#000" stroke-width="0.8"/>
<rect x="458" y="387" width="4" height="16" fill="#fff" stroke="#000" stroke-width="0.8"/>
<rect x="464" y="387" width="4" height="16" fill="#fff" stroke="#000" stroke-width="0.8"/>
<rect x="470" y="387" width="4" height="16" fill="#f80" stroke="#000" stroke-width="0.8"/>
<rect x="476" y="387" width="4" height="16" fill="#fff" stroke="#000" stroke-width="0.8"/>
<rect x="482" y="387" width="4" height="16" fill="#f80" stroke="#000" stroke-width="0.8"/>
<circle cx="484" cy="370" r="4" fill="#999" stroke="#333"/>
<circle cx="500" cy="370" r="4" fill="#999" stroke="#333"/>
<rect x="490" y="368" width="4" height="4" fill="#ccc" stroke="#333"/>
<circle cx="322" cy="477" r="5.5" fill="#888"/>
<path d="M318,473 L326,481 M326,473 L318,481" stroke="#555"/>
<path d="M347,420 V448 L352,453 M350,420 V446 L355,451 M353,420 V444 L358,449" fill="none" stroke="#000" stroke-width="1"/>
<rect x="360" y="420" width="22" height="32" fill="#fff" stroke="#000" stroke-width="2"/>
<rect x="347" y="455" width="27" height="10" rx="4" fill="#fff" stroke="#888"/>
<rect x="373" y="453" width="7" height="12" fill="#333"/>
<rect x="385" y="422" width="13" height="5" rx="2.5" fill="#fc8" stroke="#c40"/>
<path d="M387,424.5 H396" stroke="#e80"/>
<circle cx="401" cy="436" r="3.5" fill="#f00"/>
<polygon points="405,418 413,418 413,426" fill="#888"/>
<rect x="378" y="468" width="12" height="5" rx="2.5" fill="#fa6" stroke="#22f"/>
<polygon points="377,478 383,483 377,489 371,483" fill="#f80" stroke="#c00"/>
<polygon points="439,440 444,445 439,450" fill="#666"/>
<polygon points="439,455 444,460 439,465" fill="#666"/>
<polygon points="439,470 444,475 439,480" fill="#666"/>
<rect x="450" y="442" width="15" height="6" fill="#666" stroke="#000"/>

<!-- ===== blue dots ===== -->
<g fill="#2a3cf5">
<circle cx="54" cy="31" r="3.8"/><circle cx="91" cy="34" r="3.8"/><circle cx="136" cy="92" r="3.8"/><circle cx="157" cy="46" r="3.8"/>
<circle cx="192" cy="32" r="3.8"/><circle cx="191" cy="63" r="3.8"/><circle cx="203" cy="63" r="3.8"/><circle cx="222" cy="86" r="3.8"/>
<circle cx="257" cy="32" r="3.8"/><circle cx="33" cy="84" r="3.8"/><circle cx="91" cy="140" r="3.8"/><circle cx="163" cy="137" r="3.8"/>
<circle cx="203" cy="140" r="3.8"/><circle cx="256" cy="141" r="3.8"/><circle cx="17" cy="153" r="3.8"/><circle cx="278" cy="70" r="3.8"/>
<circle cx="286" cy="23" r="3.8"/><circle cx="286" cy="32" r="3.8"/><circle cx="301" cy="32" r="3.8"/>
<circle cx="333" cy="43" r="3.2"/><circle cx="333" cy="50" r="3.2"/><circle cx="333" cy="57" r="3.2"/><circle cx="333" cy="64" r="3.2"/><circle cx="333" cy="71" r="3.2"/>
<circle cx="333" cy="83" r="3.8"/><circle cx="319" cy="42" r="3.8"/><circle cx="349" cy="33" r="3.8"/>
<circle cx="292" cy="102" r="3.8"/><circle cx="298" cy="102" r="3.8"/><circle cx="306" cy="101" r="3.8"/><circle cx="313" cy="100" r="3.8"/>
<circle cx="383" cy="99" r="3.8"/><circle cx="408" cy="27" r="3.8"/><circle cx="403" cy="37" r="3.8"/><circle cx="417" cy="36" r="3.8"/>
<circle cx="427" cy="32" r="3.8"/><circle cx="435" cy="32" r="3.8"/><circle cx="457" cy="32" r="3.8"/><circle cx="437" cy="82" r="3.8"/>
<circle cx="483" cy="101" r="3.8"/><circle cx="533" cy="84" r="3.8"/><circle cx="434" cy="8" r="3.8"/><circle cx="491" cy="18" r="3.8"/>
<circle cx="384" cy="16" r="3.8"/><circle cx="300" cy="118" r="3.8"/><circle cx="369" cy="138" r="3.8"/><circle cx="495" cy="130" r="3.8"/>
<circle cx="457" cy="146" r="3.8"/><circle cx="393" cy="133" r="3.5"/><circle cx="409" cy="153" r="3.5"/><circle cx="409" cy="165" r="3.5"/><circle cx="329" cy="181" r="3.2"/>
<circle cx="58" cy="232" r="3.8"/><circle cx="93" cy="249" r="3.8"/><circle cx="163" cy="236" r="3.8"/><circle cx="132" cy="286" r="3.8"/>
<circle cx="191" cy="237" r="3.8"/><circle cx="258" cy="236" r="3.8"/><circle cx="208" cy="294" r="3.8"/><circle cx="197" cy="326" r="3.8"/>
<circle cx="258" cy="346" r="3.8"/><circle cx="61" cy="343" r="3.8"/><circle cx="157" cy="331" r="3.8"/>
<circle cx="292" cy="226" r="3.8"/><circle cx="360" cy="238" r="3.8"/><circle cx="325" cy="293" r="3.8"/><circle cx="338" cy="283" r="3.8"/>
<circle cx="391" cy="227" r="3.8"/><circle cx="457" cy="232" r="3.8"/><circle cx="487" cy="232" r="3.8"/><circle cx="502" cy="232" r="3.8"/><circle cx="487" cy="223" r="3.8"/>
<circle cx="533" cy="242" r="3.2"/><circle cx="533" cy="249" r="3.2"/><circle cx="533" cy="256" r="3.2"/><circle cx="533" cy="263" r="3.2"/><circle cx="533" cy="270" r="3.2"/>
<circle cx="533" cy="283" r="3.8"/><circle cx="492" cy="302" r="3.8"/><circle cx="498" cy="302" r="3.8"/><circle cx="506" cy="301" r="3.8"/><circle cx="513" cy="300" r="3.8"/>
<circle cx="477" cy="271" r="3.8"/><circle cx="422" cy="286" r="3.8"/><circle cx="492" cy="321" r="3.8"/><circle cx="454" cy="331" r="3.8"/>
<circle cx="295" cy="331" r="3.8"/><circle cx="316" cy="353" r="3.8"/><circle cx="373" cy="338" r="3.8"/><circle cx="397" cy="340" r="3.8"/>
<circle cx="532" cy="385" r="3.8"/><circle cx="64" cy="447" r="3.8"/><circle cx="31" cy="496" r="3.8"/><circle cx="123" cy="387" r="3.8"/>
<circle cx="99" cy="429" r="3.8"/><circle cx="151" cy="431" r="3.8"/><circle cx="192" cy="438" r="3.8"/><circle cx="127" cy="489" r="3.8"/>
<circle cx="211" cy="374" r="3.8"/><circle cx="225" cy="492" r="3.8"/><circle cx="198" cy="496" r="3.8"/><circle cx="206" cy="496" r="3.8"/><circle cx="213" cy="496" r="3.8"/>
<circle cx="267" cy="435" r="3.8"/><circle cx="277" cy="440" r="3.8"/>
<circle cx="398" cy="387" r="3.8"/><circle cx="322" cy="486" r="3.8"/><circle cx="276" cy="441" r="3.8"/><circle cx="349" cy="431" r="3.8"/>
<circle cx="434" cy="508" r="3.8"/><circle cx="468" cy="431" r="3.8"/>
</g>
</g>
<pattern id="P" width="500" height="500" patternUnits="userSpaceOnUse">
<rect width="500" height="500" fill="#fff"/>
<use href="#T" xlink:href="#T" x="-500" y="-500"/>
<use href="#T" xlink:href="#T" x="0" y="-500"/>
<use href="#T" xlink:href="#T" x="500" y="-500"/>
<use href="#T" xlink:href="#T" x="-500" y="0"/>
<use href="#T" xlink:href="#T" x="0" y="0"/>
<use href="#T" xlink:href="#T" x="500" y="0"/>
<use href="#T" xlink:href="#T" x="-500" y="500"/>
<use href="#T" xlink:href="#T" x="0" y="500"/>
<use href="#T" xlink:href="#T" x="500" y="500"/>
</pattern>
</defs>
<rect x="0" y="0" width="1100" height="584" fill="url(#P)"/>
</svg>
</body></html>
